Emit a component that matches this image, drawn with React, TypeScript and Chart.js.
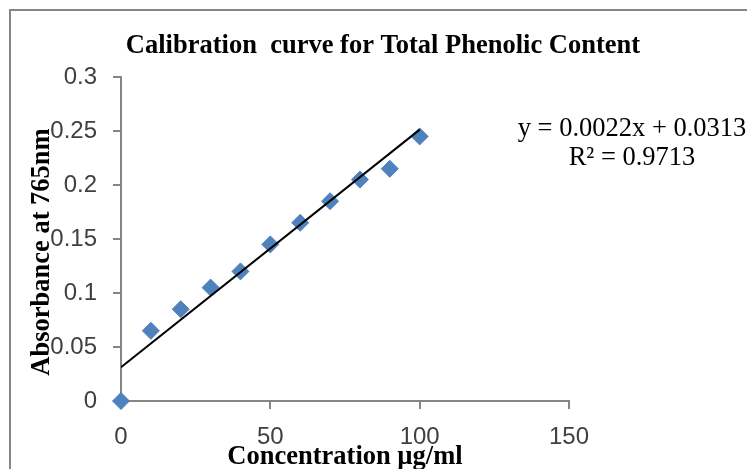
import React, { useEffect, useRef } from "react";
import { Chart, registerables } from "chart.js";

Chart.register(...registerables);

const concentration = [0, 10, 20, 30, 40, 50, 60, 70, 80, 90, 100];
const absorbance = [0, 0.065, 0.085, 0.105, 0.12, 0.145, 0.165, 0.185, 0.205, 0.215, 0.245];
const trendX = [0, 100];
const trendY = [0.0313, 0.2513];
const titleText = "Calibration  curve for Total Phenolic Content";
const xTitle = "Concentration µg/ml";
const yTitle = "Absorbance at 765nm";
const eqLine1 = "y = 0.0022x + 0.0313";
const eqLine2 = "R² = 0.9713";

const AXIS_GRAY = "#868686";

const overlayPlugin = {
  id: "overlay",
  afterDraw(chart: any) {
    const ctx = chart.ctx;
    ctx.save();
    ctx.strokeStyle = AXIS_GRAY;
    ctx.lineWidth = 2;
    ctx.strokeRect(10, 10, 800, 500);
    ctx.fillStyle = "#000";
    ctx.textAlign = "center";
    ctx.textBaseline = "middle";
    ctx.font = "bold 26.5px 'Liberation Serif'";
    ctx.fillText(titleText, 383, 46);
    const area = chart.chartArea;
    ctx.fillText(xTitle, (area.left + area.right) / 2, 457);
    ctx.save();
    ctx.translate(42, 252);
    ctx.rotate(-Math.PI / 2);
    ctx.fillText(yTitle, 0, 0);
    ctx.restore();
    ctx.font = "26.5px 'Liberation Serif'";
    ctx.fillText(eqLine1, 632, 129);
    ctx.fillText(eqLine2, 632, 158);
    ctx.restore();
  },
};

export default function App() {
  const ref = useRef<HTMLCanvasElement>(null);
  useEffect(() => {
    if (!ref.current) return;
    const chart = new Chart(ref.current, {
      type: "scatter",
      data: {
        datasets: [
          {
            label: "Linear",
            data: trendX.map((x, i) => ({ x, y: trendY[i] })),
            showLine: true,
            borderColor: "#000",
            borderWidth: 2,
            pointRadius: 0,
            fill: false,
          },
          {
            label: "Absorbance",
            data: concentration.map((x, i) => ({ x, y: absorbance[i] })),
            pointStyle: "rectRot",
            pointRadius: 8.5,
            backgroundColor: "#4F81BD",
            borderColor: "#4F81BD",
            borderWidth: 1,
            showLine: false,
            clip: false,
          },
        ],
      },
      options: {
        responsive: false,
        animation: false,
        layout: { padding: { left: 0, top: 77, right: 178, bottom: 0 } },
        plugins: {
          legend: { display: false },
          tooltip: { enabled: false },
          title: { display: false },
        },
        scales: {
          x: {
            type: "linear",
            min: 0,
            max: 150,
            ticks: {
              stepSize: 50,
              color: "#404040",
              font: { family: "'Liberation Sans'", size: 24 },
              padding: 14,
            },
            grid: {
              drawOnChartArea: false,
              drawTicks: true,
              tickLength: 8,
              color: AXIS_GRAY,
              lineWidth: 2,
            },
            border: { color: AXIS_GRAY, width: 2 },
            afterFit: (s: any) => {
              s.height = 68;
            },
          },
          y: {
            type: "linear",
            min: 0,
            max: 0.3,
            ticks: {
              stepSize: 0.05,
              color: "#404040",
              font: { family: "'Liberation Sans'", size: 24 },
              padding: 16,
              callback: (v: any) => String(Math.round(Number(v) * 100) / 100),
            },
            grid: {
              drawOnChartArea: false,
              drawTicks: true,
              tickLength: 8,
              color: AXIS_GRAY,
              lineWidth: 2,
            },
            border: { color: AXIS_GRAY, width: 2 },
            afterFit: (s: any) => {
              s.width = 121;
            },
          },
        },
      },
      plugins: [overlayPlugin],
    });
    return () => chart.destroy();
  }, []);
  return (
    <div style={{ position: "fixed", left: 0, top: 0, width: 747, height: 469, background: "#fff" }}>
      <canvas ref={ref} width={747} height={469} style={{ display: "block" }} />
    </div>
  );
}
